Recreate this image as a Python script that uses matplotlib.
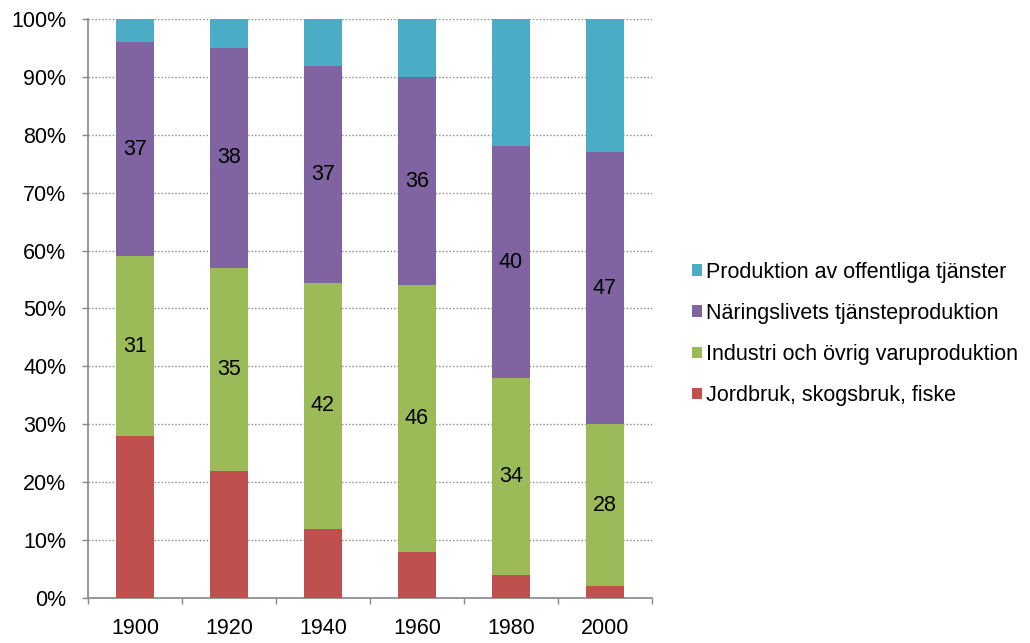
import numpy as np
import matplotlib
matplotlib.use('Agg')
import matplotlib.pyplot as plt

plt.rcParams['font.family'] = ['Liberation Sans', 'DejaVu Sans']

years = ['1900', '1920', '1940', '1960', '1980', '2000']
jordbruk = [28, 22, 12, 8, 4, 2]
industri = [31, 35, 42.4, 46, 34, 28]
naringsliv = [37, 38, 37.4, 36, 40, 47]
offentlig = [4, 5, 8.2, 10, 22, 23]

series = [
    ('Jordbruk, skogsbruk, fiske', jordbruk, '#C0504D', False),
    ('Industri och övrig varuproduktion', industri, '#9BBB59', True),
    ('Näringslivets tjänsteproduktion', naringsliv, '#8064A2', True),
    ('Produktion av offentliga tjänster', offentlig, '#4BACC6', False),
]

FS = 15.5

fig = plt.figure(figsize=(10.3, 6.43), dpi=100)
ax = fig.add_axes([0.0854, 0.07, 0.5476, 0.9005])

x = np.arange(len(years))
bottom = np.zeros(len(years))
handles = []
for name, vals, col, show_lbl in series:
    vals = np.array(vals, dtype=float)
    bars = ax.bar(x, vals, 0.4, bottom=bottom, color=col, label=name, zorder=3)
    if show_lbl:
        ax.bar_label(bars, fmt='%.0f', label_type='center', fontsize=FS)
    handles.append(bars)
    bottom += vals

ax.set_xlim(-0.5, len(years) - 0.5)
ax.set_ylim(0, 100)
ax.set_yticks(np.arange(0, 101, 10))
ax.set_yticklabels(['%d%%' % v for v in range(0, 101, 10)], fontsize=FS)
ax.set_xticks(x)
ax.set_xticklabels(years, fontsize=FS)
ax.set_xticks(np.arange(-0.5, len(years)), minor=True)
ax.tick_params(axis='x', which='major', length=0, pad=14.5)
ax.tick_params(axis='x', which='minor', length=4.5, color='#888888', width=1)
ax.tick_params(axis='y', length=4.5, color='#888888', width=1, pad=11)

ax.grid(axis='y', linestyle=(0, (1, 1.5)), color='#888888', linewidth=1, zorder=0)
for s in ['top', 'right']:
    ax.spines[s].set_visible(False)
for s in ['left', 'bottom']:
    ax.spines[s].set_color('#888888')
    ax.spines[s].set_linewidth(1.2)

leg = ax.legend(handles[::-1], [s[0] for s in series][::-1],
                loc='center left', bbox_to_anchor=(1.037, 0.456), frameon=False,
                fontsize=FS, handlelength=0.45, handleheight=0.45,
                handletextpad=0.2, labelspacing=0.93)

fig.savefig('out.png', dpi=100)
